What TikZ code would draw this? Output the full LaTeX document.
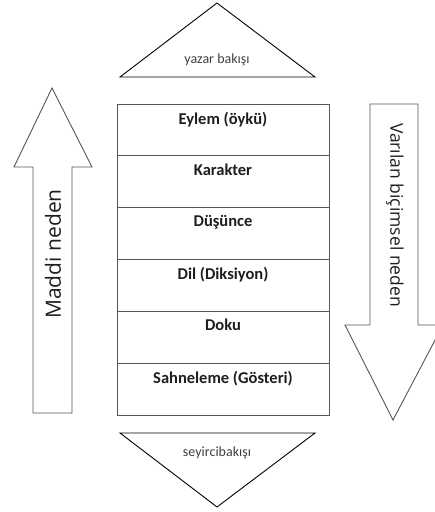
\documentclass[tikz,border=0pt]{standalone}
\usepackage{fontspec}
\setmainfont{Carlito}
\newfontfamily\arrowfont{Open Sans}
\usetikzlibrary{positioning}
\definecolor{LineGray}{RGB}{85,85,85}
\definecolor{TextBlack}{RGB}{30,30,30}

\begin{document}
\begin{tikzpicture}[x=1pt,y=-1pt,
  cell/.style={draw=LineGray,line width=0.9pt,minimum width=212pt,minimum height=51.8pt,inner sep=0pt},
  celltext/.style={font=\fontsize{16.5}{18}\selectfont\bfseries,text=TextBlack,inner sep=0pt},
  viewtext/.style={font=\fontsize{14}{16}\selectfont,text=TextBlack!85,inner sep=0pt},
  causetext/.style={font=\arrowfont,text=TextBlack,inner sep=0pt},
  outline/.style={draw=LineGray,line width=0.9pt,line join=miter}]
  \useasboundingbox (0,0) rectangle (435,512);
  % view triangles
  \draw[outline,draw=black] (120,77)--(217,3)--(315,77)--cycle;
  \node[viewtext] (yazar) at (217,60) {yazar bakışı};
  \draw[outline,draw=black] (120,433)--(315,433)--(217,507)--cycle;
  \node[viewtext] (seyirci) at (217,453) {seyircibakışı};
  % the six parts
  \foreach \i/\name in {1/Eylem (öykü),2/Karakter,3/Düşünce,4/Dil (Diksiyon),5/Doku,6/Sahneleme (Gösteri)}{
    \node[cell] (r\i) at (223,{104+51.83*(\i-0.5)}) {};
    \node[celltext,below=8pt of r\i.north] (t\i) {\name};
  }
  % causes
  \draw[outline] (33,413)--(33,167)--(14,167)--(52,88)--(92,167)--(72,167)--(72,413)--cycle;
  \node[causetext,font=\arrowfont\fontsize{21}{24}\selectfont,rotate=90] (maddi) at (53,254) {Maddi neden};
  \draw[outline] (370,104)--(418,104)--(418,325)--(443,325)--(393,420)--(345,325)--(370,325)--cycle;
  \node[causetext,font=\arrowfont\fontsize{17.5}{20}\selectfont,rotate=-90] (varilan) at (395,215) {Varılan biçimsel neden};
\end{tikzpicture}
\end{document}
